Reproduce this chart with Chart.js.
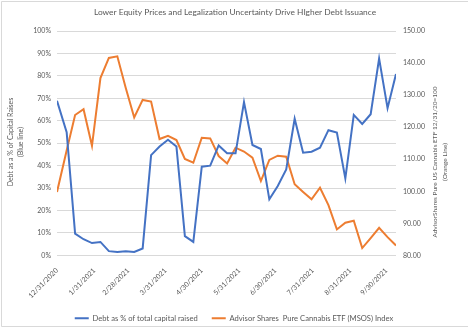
<!DOCTYPE html>
<html lang="en">

<head>
    <meta charset="UTF-8">
    <title>Debt Issuance vs MSOS</title>
    <script src="https://cdn.jsdelivr.net/npm/chart.js@4.4.9/dist/chart.umd.min.js"></script>
    <style>
        html, body { margin: 0; padding: 0; background: #ffffff; overflow: hidden; }
        #grafico { width: 468px; height: 328px; position: relative; }
    </style>
</head>

<body>
    <div id="grafico">
        <canvas id="debtChart" width="468" height="328"></canvas>
    </div>
</body>

</html>
<script>
    // weekly observations (Fridays after the 12/31 base date)
    const datas = [
        '12/31/2020', '1/8/2021', '1/15/2021', '1/22/2021', '1/29/2021', '2/5/2021', '2/12/2021',
        '2/19/2021', '2/26/2021', '3/5/2021', '3/12/2021', '3/19/2021', '3/26/2021', '4/2/2021',
        '4/9/2021', '4/16/2021', '4/23/2021', '4/30/2021', '5/7/2021', '5/14/2021', '5/21/2021',
        '5/28/2021', '6/4/2021', '6/11/2021', '6/18/2021', '6/25/2021', '7/2/2021', '7/9/2021',
        '7/16/2021', '7/23/2021', '7/30/2021', '8/6/2021', '8/13/2021', '8/20/2021', '8/27/2021',
        '9/3/2021', '9/10/2021', '9/17/2021', '9/24/2021', '10/1/2021', '10/8/2021'
    ];

    // debt as share of total capital raised (%)
    const debtPct = [
        68.9, 54.9, 9.7, 7.2, 5.5, 6.0, 1.9, 1.5, 1.8, 1.5,
        3.1, 44.7, 48.5, 51.5, 48.5, 8.6, 6.0, 39.5, 40.0, 49.0,
        45.5, 45.5, 68.3, 49.2, 47.4, 25.0, 30.9, 38.3, 60.9, 45.8,
        46.2, 48.0, 55.8, 54.7, 34.3, 62.6, 58.6, 62.9, 87.7, 65.6,
        80.8
    ];

    // MSOS index, 12/31/20 = 100
    const msosIndex = [
        99.8, 112.7, 123.8, 125.6, 114.2, 135.3, 141.6, 142.1, 132.2, 123.0,
        128.5, 128.0, 116.3, 117.3, 116.0, 110.1, 108.9, 116.7, 116.5, 111.0,
        108.7, 113.6, 112.4, 110.5, 103.2, 109.8, 111.1, 110.8, 102.2, 99.8,
        97.5, 101.1, 95.7, 88.1, 90.2, 90.8, 82.3, 85.4, 88.6, 85.7,
        83.1
    ];

    // month-end labels on the date axis
    const datasEixo = [
        '12/31/2020', '1/31/2021', '2/28/2021', '3/31/2021', '4/30/2021',
        '5/31/2021', '6/30/2021', '7/31/2021', '8/31/2021', '9/30/2021'
    ];

    const ticksPct = [0, 10, 20, 30, 40, 50, 60, 70, 80, 90, 100];
    const ticksIndice = [80, 90, 100, 110, 120, 130, 140, 150];

    const tituloGrafico = 'Lower Equity Prices and Legalization Uncertainty Drive HIgher Debt Issuance';
    const tituloEsquerda = ['Debt as a % of Capital Raises', '(Blue line)'];
    const tituloDireita = ['AdvisorShares Pure US Cannabis ETF 12/31/20=100', '(Orange Line)'];
    const nomeSerie1 = 'Debt as % of total capital raised';
    const nomeSerie2 = 'Advisor Shares  Pure Cannabis ETF (MSOS) Index';

    const FONTE = "Lato, 'Open Sans', sans-serif";
    const CINZA = '#595959';

    // days since the base date
    function diaDe(texto) {
        var p = texto.split('/');
        var d = Date.UTC(Number(p[2]), Number(p[0]) - 1, Number(p[1]));
        var base = Date.UTC(2020, 11, 31);
        return Math.round((d - base) / 86400000);
    }

    var labelPorDia = {};
    for (i = 0; i < datasEixo.length; i++) {
        labelPorDia[diaDe(datasEixo[i])] = datasEixo[i];
    }

    var pontosDebt = [];
    var pontosMsos = [];
    for (i = 0; i < datas.length; i++) {
        pontosDebt.push({ x: diaDe(datas[i]), y: debtPct[i] });
        pontosMsos.push({ x: diaDe(datas[i]), y: msosIndex[i] });
    }

    // title, rotated axis titles and the frame
    const textosExtras = {
        id: 'textosExtras',
        beforeDraw(chart) {
            const ctx = chart.ctx;
            ctx.save();
            ctx.fillStyle = '#ffffff';
            ctx.fillRect(0, 0, chart.width, chart.height);
            ctx.strokeStyle = '#d9d9d9';
            ctx.lineWidth = 1;
            ctx.beginPath();
            ctx.moveTo(chart.width, 1.5);
            ctx.lineTo(1.5, 1.5);
            ctx.lineTo(1.5, 326.5);
            ctx.lineTo(chart.width, 326.5);
            ctx.stroke();
            ctx.restore();
        },
        afterDraw(chart) {
            const ctx = chart.ctx;
            ctx.save();
            ctx.fillStyle = CINZA;
            ctx.textAlign = 'center';
            ctx.textBaseline = 'middle';
            ctx.font = '8.4px ' + FONTE;
            ctx.fillText(tituloGrafico, 235, 12);

            ctx.font = '7px ' + FONTE;
            for (i = 0; i < tituloEsquerda.length; i++) {
                ctx.save();
                ctx.translate(11 + i * 10, 142);
                ctx.rotate(-Math.PI / 2);
                ctx.fillText(tituloEsquerda[i], 0, 0);
                ctx.restore();
            }
            ctx.font = '6.5px ' + FONTE;
            for (i = 0; i < tituloDireita.length; i++) {
                ctx.save();
                ctx.translate(435 + i * 9.5, 162);
                ctx.rotate(-Math.PI / 2);
                ctx.fillText(tituloDireita[i], 0, 0);
                ctx.restore();
            }
            ctx.restore();
        }
    };

    const config = {
        type: 'line',
        data: {
            datasets: [{
                label: nomeSerie1,
                data: pontosDebt,
                yAxisID: 'y',
                borderColor: '#4472c4',
                backgroundColor: '#4472c4',
                borderWidth: 2,
                pointRadius: 0,
                tension: 0,
                fill: false
            }, {
                label: nomeSerie2,
                data: pontosMsos,
                yAxisID: 'y1',
                borderColor: '#ed7d31',
                backgroundColor: '#ed7d31',
                borderWidth: 2,
                pointRadius: 0,
                tension: 0,
                fill: false
            }]
        },
        options: {
            responsive: false,
            animation: false,
            layout: {
                padding: { top: 31, left: 0, right: 0, bottom: -4 }
            },
            scales: {
                x: {
                    type: 'linear',
                    min: 0,
                    max: diaDe(datas[datas.length - 1]),
                    afterBuildTicks: function (scale) {
                        scale.ticks = datasEixo.map(function (d) { return { value: diaDe(d) }; });
                    },
                    afterFit: function (scale) { scale.height = 45; },
                    grid: { display: false },
                    border: { display: false },
                    ticks: {
                        autoSkip: false,
                        minRotation: 45,
                        maxRotation: 45,
                        padding: 3,
                        color: CINZA,
                        font: { family: FONTE, size: 7 },
                        callback: function (v) { return labelPorDia[v] || ''; }
                    }
                },
                y: {
                    position: 'left',
                    min: 0,
                    max: 100,
                    afterBuildTicks: function (scale) {
                        scale.ticks = ticksPct.map(function (v) { return { value: v }; });
                    },
                    afterFit: function (scale) { scale.width = 57; },
                    grid: { color: '#d9d9d9', lineWidth: 1, drawTicks: false },
                    border: { display: false },
                    ticks: {
                        padding: 6,
                        color: CINZA,
                        font: { family: FONTE, size: 7 },
                        callback: function (v) { return v + '%'; }
                    }
                },
                y1: {
                    position: 'right',
                    min: 80,
                    max: 150,
                    afterBuildTicks: function (scale) {
                        scale.ticks = ticksIndice.map(function (v) { return { value: v }; });
                    },
                    afterFit: function (scale) { scale.width = 72; },
                    grid: { display: false, drawTicks: false },
                    border: { display: false },
                    ticks: {
                        padding: 7,
                        color: CINZA,
                        font: { family: FONTE, size: 7 },
                        callback: function (v) { return v.toFixed(2); }
                    }
                }
            },
            plugins: {
                legend: {
                    position: 'bottom',
                    labels: {
                        usePointStyle: true,
                        pointStyle: 'line',
                        pointStyleWidth: 14,
                        boxHeight: 2,
                        padding: 14,
                        color: CINZA,
                        font: { family: FONTE, size: 7.6 }
                    }
                },
                tooltip: { enabled: false }
            }
        },
        plugins: [textosExtras]
    };

    let myChart = new Chart(document.getElementById('debtChart'), config);
</script>
